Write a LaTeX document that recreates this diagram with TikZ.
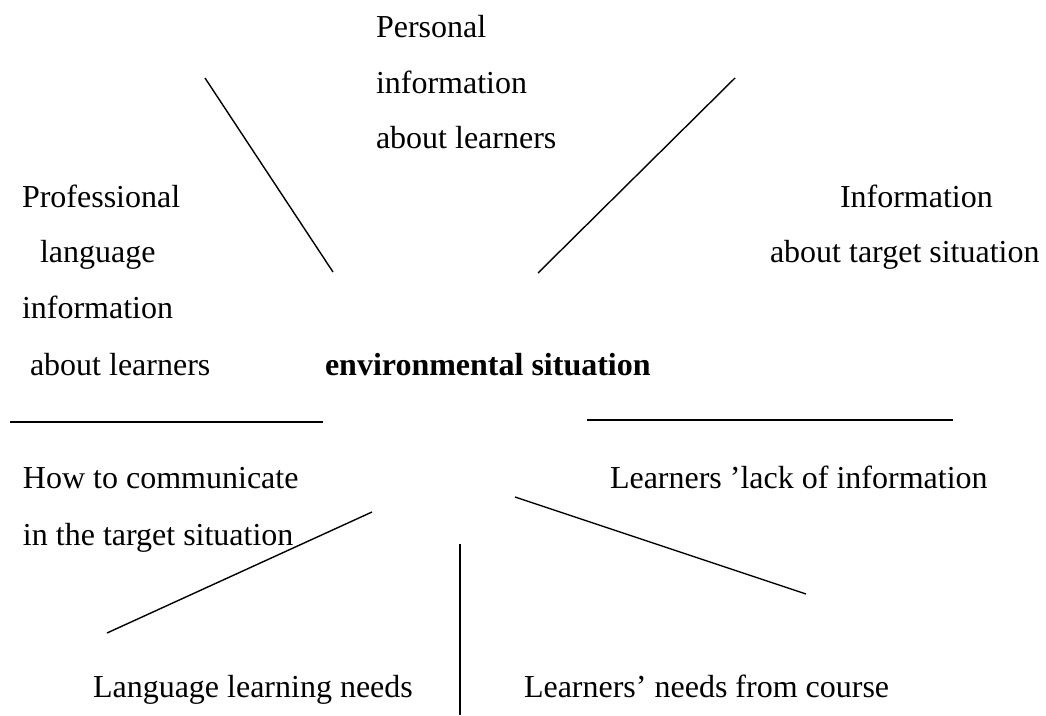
\documentclass[tikz,border=0pt]{standalone}
\usepackage{fontspec}
\setmainfont{Liberation Serif}
\begin{document}
\begin{tikzpicture}[x=1pt,y=-1pt,
  lbl/.style={anchor=base west,inner sep=0pt,outer sep=0pt,font=\fontsize{32}{38}\selectfont},
  ray/.style={line width=1.4pt,black},
  bar/.style={line width=2.2pt,black}]
\useasboundingbox (0,0) rectangle (1046,715);
% top centre
\node[lbl] (p1) at (376,37) {Personal};
\node[lbl] (p2) at (376,93) {information};
\node[lbl] (p3) at (376,148) {about learners};
% left
\node[lbl] (l1) at (22,207) {Professional};
\node[lbl] (l2) at (40,262) {language};
\node[lbl] (l3) at (22,318) {information};
\node[lbl] (l4) at (30,375) {about learners};
% centre
\node[lbl,font=\fontsize{32}{38}\selectfont\bfseries] (env) at (325,375) {environmental situation};
% right
\node[lbl] (r1) at (840,207) {Information};
\node[lbl] (r2) at (770,262) {about target situation};
% lower
\node[lbl] (h1) at (23,488) {How to communicate};
\node[lbl] (h2) at (23,545) {in the target situation};
\node[lbl] (k1) at (610,488) {Learners ’lack of information};
\node[lbl] (n1) at (93,697) {Language learning needs};
\node[lbl] (n2) at (524,697) {Learners’ needs from course};
% coordinates for rays
\coordinate (a1) at (205,78);  \coordinate (a2) at (333,272);
\coordinate (b1) at (735,78);  \coordinate (b2) at (538,273);
\coordinate (c1) at (10,422);  \coordinate (c2) at (323,422);
\coordinate (d1) at (587,420); \coordinate (d2) at (953,420);
\coordinate (e1) at (107,633); \coordinate (e2) at (372,512);
\coordinate (f1) at (515,497); \coordinate (f2) at (806,594);
\coordinate (g1) at (460,544); \coordinate (g2) at (460,715);
\draw[ray] (a1) -- (a2);
\draw[ray] (b1) -- (b2);
\draw[bar] (c1) -- (c2);
\draw[bar] (d1) -- (d2);
\draw[ray] (e1) -- (e2);
\draw[ray] (f1) -- (f2);
\draw[ray] (g1) -- (g2);
\end{tikzpicture}
\end{document}
